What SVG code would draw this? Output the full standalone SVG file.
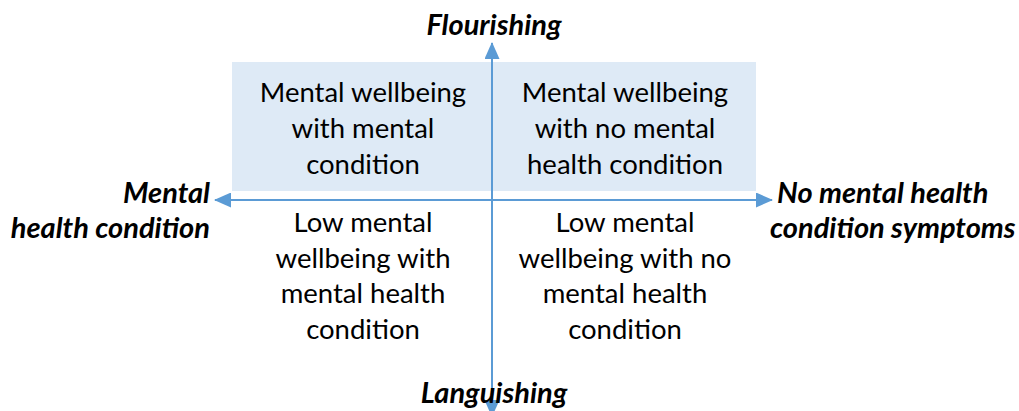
<svg xmlns="http://www.w3.org/2000/svg" width="1019" height="411" viewBox="0 0 1019 411">
<style>
.q{font-family:Lato,"Liberation Sans",sans-serif;font-size:27.5px;fill:#000;text-anchor:middle}
.ax{font-family:Lato,"Liberation Sans",sans-serif;font-size:29px;font-weight:bold;font-style:italic;fill:#000}
.ln{stroke:#5B9BD5;stroke-width:2;fill:none}
</style>
<defs>
<marker id="ah" viewBox="0 0 17 15" refX="16" refY="7.5" markerWidth="17" markerHeight="15" markerUnits="userSpaceOnUse" orient="auto">
<path d="M0,0 L17,7.5 L0,15 Z" fill="#5B9BD5"/>
</marker>
</defs>
<rect id="panel" x="232" y="62" width="524" height="129" fill="#DEEAF6"/>
<g id="connectors">
<line class="ln" x1="492" y1="200" x2="215" y2="200" marker-end="url(#ah)"/>
<line class="ln" x1="492" y1="200" x2="772" y2="200" marker-end="url(#ah)"/>
<line class="ln" x1="492" y1="200" x2="492" y2="43" marker-end="url(#ah)"/>
<line class="ln" x1="492" y1="200" x2="492" y2="416" marker-end="url(#ah)"/>
</g>
<g id="q1"><text class="q" x="363" y="102">Mental wellbeing</text><text class="q" x="363" y="138">with mental</text><text class="q" x="363" y="174">condition</text></g>
<g id="q2"><text class="q" x="625" y="102">Mental wellbeing</text><text class="q" x="625" y="138">with no mental</text><text class="q" x="625" y="174">health condition</text></g>
<g id="q3"><text class="q" x="363" y="232">Low mental</text><text class="q" x="363" y="268">wellbeing with</text><text class="q" x="363" y="303">mental health</text><text class="q" x="363" y="339">condition</text></g>
<g id="q4"><text class="q" x="625" y="232">Low mental</text><text class="q" x="625" y="268">wellbeing with no</text><text class="q" x="625" y="303">mental health</text><text class="q" x="625" y="339">condition</text></g>
<g id="top"><text class="ax" x="494" y="35" text-anchor="middle">Flourishing</text></g>
<g id="bottom"><text class="ax" x="494" y="403" text-anchor="middle">Languishing</text></g>
<g id="left"><text class="ax" x="210" y="203" text-anchor="end">Mental</text><text class="ax" x="210" y="238" text-anchor="end">health condition</text></g>
<g id="right"><text class="ax" x="777" y="203">No mental health</text><text class="ax" x="770" y="238">condition symptoms</text></g>
</svg>
